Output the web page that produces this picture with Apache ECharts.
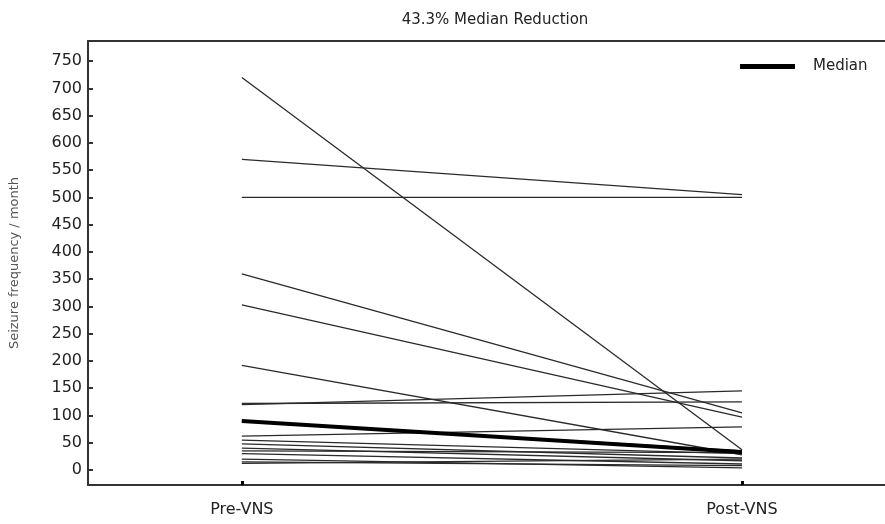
<!DOCTYPE html>
<html>
<head>
<meta charset="utf-8">
<script src="https://cdn.jsdelivr.net/npm/echarts@6/dist/echarts.min.js"></script>
<style>html,body{margin:0;padding:0;background:#fff}#c{width:885px;height:524px}</style>
</head>
<body>
<div id="c"></div>
<script>
var categories = ['Pre-VNS', 'Post-VNS'];
var preValues  = [720, 570, 500, 360, 303, 192, 120, 122, 62, 90, 55, 48, 40, 35, 30, 20, 15, 12];
var postValues = [37, 505, 500, 105, 97, 28, 145, 125, 79, 35, 30, 22, 17, 32, 11, 4, 8, 20];
var medianPre = 90;
var medianPost = 33;
var yTicks = [0, 50, 100, 150, 200, 250, 300, 350, 400, 450, 500, 550, 600, 650, 700, 750];
var titleText = '43.3% Median Reduction';
var yName = 'Seizure frequency / month';

var series = [];
for (var i = 0; i < preValues.length; i++) {
  series.push({
    type: 'line', silent: true, symbol: 'none', animation: false,
    data: [[0, preValues[i]], [1, postValues[i]]],
    lineStyle: { color: '#2a2a2a', width: 1.3 }, z: 2
  });
}
series.push({
  name: 'Median', type: 'line', silent: true, symbol: 'none', animation: false,
  data: [[0, medianPre], [1, medianPost]],
  lineStyle: { color: '#000', width: 4 }, itemStyle: { color: '#000' }, z: 3
});

var xMin = -0.3076, xMax = 1.286;
var chart = echarts.init(document.getElementById('c'));
chart.setOption({
  animation: false,
  backgroundColor: '#fff',
  title: {
    text: titleText, left: 490, top: 8, textAlign: 'center',
    textStyle: { fontFamily: 'DejaVu Sans', fontSize: 15, fontWeight: 'normal', color: '#222' }
  },
  legend: {
    data: ['Median'], left: 735, top: 54, icon: 'rect', itemWidth: 55, itemHeight: 5, itemGap: 10,
    textStyle: { fontFamily: 'DejaVu Sans', fontSize: 15, color: '#222', padding: [0, 0, 0, 13] }
  },
  grid: { left: 87, top: 41, right: 0, bottom: 39 },
  xAxis: [{
    type: 'value', min: xMin, max: xMax, position: 'bottom',
    axisLine: { show: true, onZero: false, lineStyle: { color: '#333', width: 2 } },
    axisTick: { show: true, inside: true, length: 4, customValues: [0, 1], lineStyle: { color: '#000', width: 3 } },
    axisLabel: { customValues: [0, 1], formatter: function (v) { return categories[Math.round(v)]; },
      margin: 17, fontFamily: 'DejaVu Sans', fontSize: 16, color: '#222' },
    splitLine: { show: false }
  }, {
    type: 'value', min: xMin, max: xMax, position: 'top',
    axisLine: { show: true, onZero: false, lineStyle: { color: '#333', width: 2 } },
    axisTick: { show: false }, axisLabel: { show: false }, splitLine: { show: false }
  }],
  yAxis: {
    type: 'value', min: -27.5, max: 787, position: 'left',
    name: yName, nameLocation: 'middle', nameGap: 67, nameRotate: 90,
    nameTextStyle: { fontFamily: 'DejaVu Sans', fontSize: 13, color: '#555' },
    axisLine: { show: true, onZero: false, lineStyle: { color: '#333', width: 2 } },
    axisTick: { show: true, inside: true, length: 5, customValues: yTicks, lineStyle: { color: '#333', width: 2 } },
    axisLabel: { customValues: yTicks, margin: 6, fontFamily: 'DejaVu Sans', fontSize: 16, color: '#222' },
    splitLine: { show: false }
  },
  series: series
});
</script>
</body>
</html>
